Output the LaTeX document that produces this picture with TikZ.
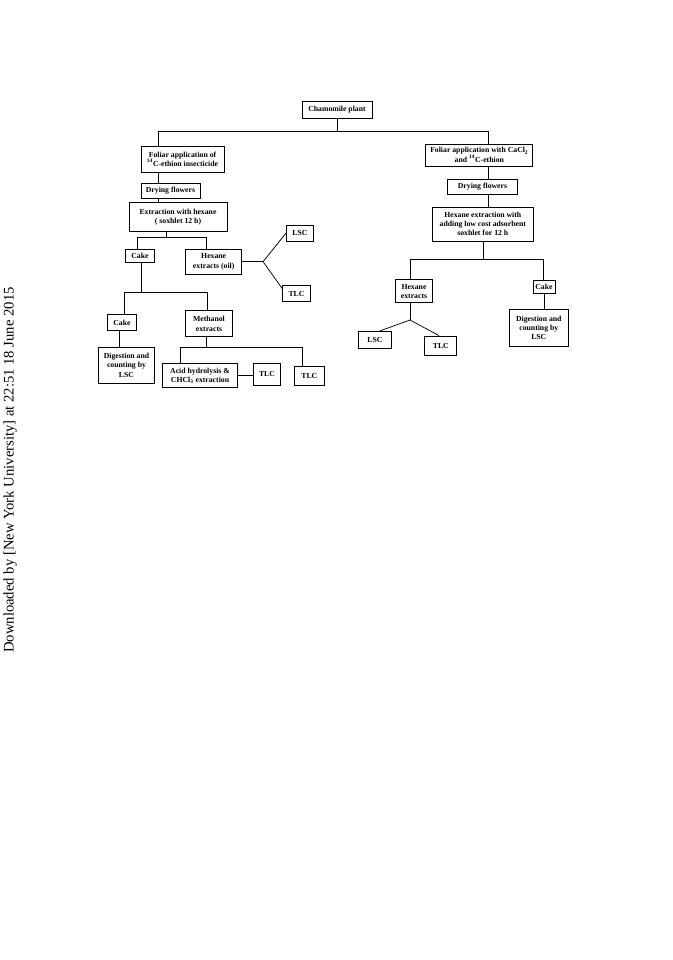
\documentclass[tikz,border=0pt]{standalone}
\usepackage{fontspec}
\setmainfont{Liberation Serif}
\usetikzlibrary{calc}
\begin{document}
\begin{tikzpicture}[x=0.75pt,y=-0.75pt,
 font=\fontsize{5.8}{7}\selectfont\bfseries,
 b/.style={draw,line width=0.55pt,align=center,inner sep=1pt},
 ln/.style={line width=0.55pt}]
\useasboundingbox (0,0) rectangle (672,960);
\node[rotate=90,font=\fontsize{11}{13}\selectfont] (dl) at (10,470)
 {Downloaded by [New York University] at 22:51 18 June 2015};
\node[b,minimum width=52.5pt,minimum height=12.75pt] (plant) at (337,109.5) {Chamomile plant};
% left branch
\node[b,minimum width=62.25pt,minimum height=19.5pt] (folL) at (182.5,159)
 {Foliar application of\\ \textsuperscript{14}C-ethion insecticide};
\node[b,minimum width=44.25pt,minimum height=11.25pt] (dryL) at (170.5,190.5) {Drying flowers};
\node[b,minimum width=73.5pt,minimum height=21.75pt] (extL) at (178,217)
 {Extraction with hexane\\ ( soxhlet 12 h)};
\node[b,minimum width=21.75pt,minimum height=10pt] (cakeA) at (140,256) {Cake};
\node[b,minimum width=42pt,minimum height=18.75pt] (hexL) at (213.7,261.7) {Hexane\\ extracts (oil)};
\node[b,minimum width=20.25pt,minimum height=12pt] (lscA) at (300,233) {LSC};
\node[b,minimum width=21pt,minimum height=12pt] (tlcA) at (296.5,293.7) {TLC};
\node[b,minimum width=22pt,minimum height=12pt] (cakeB) at (122,322.5) {Cake};
\node[b,minimum width=35.25pt,minimum height=19.5pt] (meth) at (209,323.7) {Methanol\\ extracts};
\node[b,minimum width=42pt,minimum height=27pt] (digL) at (126.5,365.3)
 {Digestion and\\ counting by\\ LSC};
\node[b,minimum width=56.25pt,minimum height=18pt] (acid) at (200,375.8)
 {Acid hydrolysis \&\\ CHCl\textsubscript{3} extraction};
\node[b,minimum width=20.25pt,minimum height=16.5pt] (tlcB) at (267,374) {TLC};
\node[b,minimum width=22.5pt,minimum height=14.25pt] (tlcC) at (309.3,375.5) {TLC};
% right branch
\node[b,minimum width=80.25pt,minimum height=16.5pt] (folR) at (479.3,155)
 {Foliar application with CaCl\textsubscript{2}\\ and \textsuperscript{14}C-ethion};
\node[b,minimum width=52.5pt,minimum height=10.9pt] (dryR) at (482.5,187) {Drying flowers};
\node[b,minimum width=75.75pt,minimum height=25.5pt] (hexR) at (482.8,224)
 {Hexane extraction with\\ adding low cost adsorbent\\ soxhlet for 12 h};
\node[b,minimum width=27.75pt,minimum height=17.25pt] (hexE) at (414,291.3) {Hexane\\ extracts};
\node[b,minimum width=24.75pt,minimum height=12.75pt] (lscB) at (375,339.7) {LSC};
\node[b,minimum width=24pt,minimum height=14.25pt] (tlcD) at (440.8,345.5) {TLC};
\node[b,minimum width=16.5pt,minimum height=9.4pt] (cakeR) at (544,287) {Cake};
\node[b,minimum width=44.25pt,minimum height=27.75pt] (digR) at (538.8,327.7)
 {Digestion and\\ counting by\\ LSC};
% connectors
\coordinate (jL) at (158,131); \coordinate (jR) at (488,131);
\draw[ln] (plant.south) -- (plant.south |- jL);
\draw[ln] (jL |- folL.north) -- (jL) -- (jR) -- (jR |- folR.north);
\draw[ln] (jL |- folL.south) -- (jL |- dryL.north);
\draw[ln] (jL |- dryL.south) -- (jL |- extL.north);
\coordinate (jE) at (166,237); \coordinate (jCa) at (137,237); \coordinate (jHx) at (206,237);
\draw[ln] (jE |- extL.south) -- (jE);
\draw[ln] (jCa |- cakeA.north) -- (jCa) -- (jHx) -- (jHx |- hexL.north);
\draw[ln] (hexL.east) -- ++(21,0) coordinate (jF);
\draw[ln] (jF) -- (lscA.west);
\draw[ln] (jF) -- (tlcA.160);
\coordinate (jC) at (141,292); \coordinate (jCb) at (124,292); \coordinate (jM) at (207,292);
\draw[ln] (jC |- cakeA.south) -- (jC);
\draw[ln] (jCb |- cakeB.north) -- (jCb) -- (jM) -- (jM |- meth.north);
\coordinate (jD) at (119,340);
\draw[ln] (jD |- cakeB.south) -- (jD |- digL.north);
\coordinate (jMe) at (206,347); \coordinate (jA) at (180,347); \coordinate (jT) at (302,347);
\draw[ln] (jMe |- meth.south) -- (jMe);
\draw[ln] (jA |- acid.north) -- (jA) -- (jT) -- (jT |- tlcC.north);
\draw[ln] (acid.east) -- (acid.east -| tlcB.west);
\draw[ln] (jR |- folR.south) -- (jR |- dryR.north);
\draw[ln] (jR |- dryR.south) -- (jR |- hexR.north);
\coordinate (jH) at (483,259.3); \coordinate (jHe) at (410,259.3); \coordinate (jCr) at (543,259.3);
\draw[ln] (jH |- hexR.south) -- (jH);
\draw[ln] (jHe |- hexE.north) -- (jHe) -- (jCr) -- (jCr |- cakeR.north);
\draw[ln] (cakeR.south) -- (cakeR.south |- digR.north);
\coordinate (jB) at (410,320);
\draw[ln] (jHe |- hexE.south) -- (jB);
\draw[ln] (jB) -- (lscB.60);
\draw[ln] (jB) -- (tlcD.100);
\end{tikzpicture}
\end{document}
